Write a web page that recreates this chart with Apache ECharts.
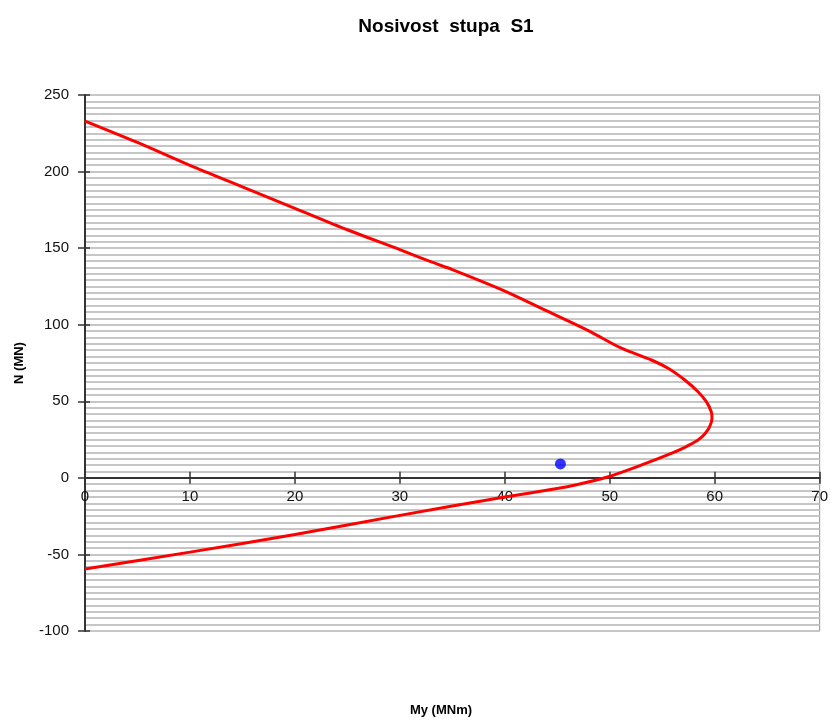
<!DOCTYPE html>
<html>
<head>
<meta charset="utf-8">
<script src="https://cdn.jsdelivr.net/npm/echarts@6/dist/echarts.min.js"></script>
<style>html,body{margin:0;padding:0;background:#fff;}#c{width:831px;height:722px;}</style>
</head>
<body>
<div id="c"></div>
<script>
const titleText = 'Nosivost  stupa  S1';
const xTitle = 'My (MNm)';
const yTitle = 'N (MN)';
const curveM = [0, 5, 10, 15, 20, 25, 30, 33, 35, 40, 44, 48, 51, 53.97, 55.56, 57.15, 58.41, 59.2, 59.67, 59.74, 59.52, 59.05, 58.41, 57.15, 55.8, 53.1, 49.86, 46.7, 45.11, 40, 30, 20, 10, 0];
const curveN = [233, 219, 204, 190, 176, 162, 149, 141, 136, 122, 109, 96, 85, 76.96, 71.54, 63.89, 56.26, 49.73, 43.2, 38.89, 33.41, 28.64, 24.72, 19.96, 15.8, 8.6, 0.76, -4.66, -6.82, -12.5, -24.5, -37, -48.5, -59.5];
const pointM = [45.3];
const pointN = [9.1];
const xTicks = [0, 70, 10];
const yTicks = [-100, 250, 50];
const stripeCount = 84;

const chart = echarts.init(document.getElementById('c'));
const font = 'Liberation Sans, Arial, sans-serif';
const gridTop = 95, gridBottom = 91, H = 722;
const plotH = H - gridTop - gridBottom;
const zeroOffset = -plotH * (0 - yTicks[0]) / (yTicks[1] - yTicks[0]);
chart.setOption({
  animation: false,
  backgroundColor: '#fff',
  title: {
    text: titleText, left: 441, top: 12, textAlign: 'center',
    textStyle: {fontFamily: font, fontSize: 19, fontWeight: 'bold', color: '#000'}
  },
  grid: {left: 85, right: 9, top: gridTop, bottom: gridBottom, show: true, borderColor: '#909090', borderWidth: 1, backgroundColor: '#fff'},
  xAxis: [{
    type: 'value', min: xTicks[0], max: xTicks[1], interval: xTicks[2],
    position: 'bottom', offset: zeroOffset,
    axisLine: {onZero: false, lineStyle: {color: '#333', width: 2}},
    axisTick: {show: true, length: 6, lineStyle: {color: '#333', width: 1.5}},
    axisLabel: {fontFamily: font, fontSize: 15, color: '#111', margin: 12},
    splitLine: {show: false}
  }, {
    type: 'value', min: xTicks[0], max: xTicks[1], interval: xTicks[2],
    position: 'bottom', offset: zeroOffset,
    axisLine: {show: false, onZero: false},
    axisTick: {show: true, inside: true, length: 6, lineStyle: {color: '#333', width: 1.5}},
    axisLabel: {show: false},
    splitLine: {show: false}
  }],
  yAxis: [{
    type: 'value', min: yTicks[0], max: yTicks[1], interval: yTicks[2],
    axisLine: {show: true, onZero: false, lineStyle: {color: '#333', width: 2}},
    axisTick: {show: true, length: 7, lineStyle: {color: '#333', width: 1.5}},
    axisLabel: {fontFamily: font, fontSize: 15, color: '#111', margin: 16},
    splitLine: {show: false},
    name: yTitle, nameLocation: 'middle', nameGap: 59, nameRotate: 90,
    nameTextStyle: {fontFamily: font, fontSize: 13, fontWeight: 'bold', color: '#000'}
  }, {
    type: 'value', min: 0, max: stripeCount, interval: 1, position: 'right',
    axisLine: {show: false}, axisTick: {show: false}, axisLabel: {show: false},
    splitLine: {show: true, lineStyle: {color: '#c6c6c6', width: 2}}
  }, {
    type: 'value', min: yTicks[0], max: yTicks[1], interval: yTicks[2], position: 'left',
    axisLine: {show: false, onZero: false},
    axisTick: {show: true, inside: true, length: 5, lineStyle: {color: '#333', width: 1.5}},
    axisLabel: {show: false}, splitLine: {show: false}
  }],
  graphic: [{
    type: 'text', x: 441, y: 704,
    style: {text: xTitle, font: 'bold 13px ' + font, fill: '#000', textAlign: 'center'}
  }],
  series: [{
    type: 'line', xAxisIndex: 0, yAxisIndex: 0, smooth: 0.3, showSymbol: false,
    lineStyle: {color: '#ff0000', width: 3},
    data: curveM.map((m, i) => [m, curveN[i]]), z: 3
  }, {
    type: 'scatter', xAxisIndex: 0, yAxisIndex: 0, symbolSize: 11,
    itemStyle: {color: '#0000ff'},
    data: pointM.map((m, i) => [m, pointN[i]]), z: 4
  }]
});
</script>
</body>
</html>
